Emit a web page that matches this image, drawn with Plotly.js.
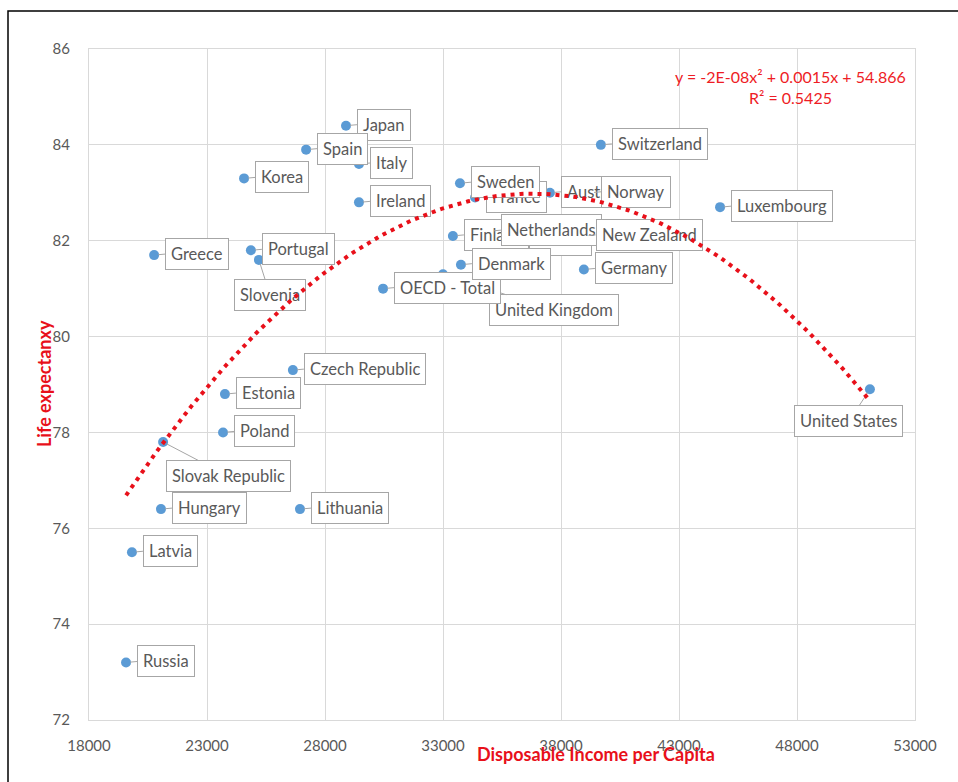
<!DOCTYPE html>
<html>
<head>
<meta charset="utf-8">
<script src="https://cdn.plot.ly/plotly-3.0.1.min.js"></script>
<style>
  html, body { margin: 0; padding: 0; background: #ffffff; }
  #wrap { position: relative; width: 958px; height: 782px; }
  #chart, #trend { position: absolute; left: 0; top: 0; width: 958px; height: 782px; }
  #trend { pointer-events: none; }
</style>
</head>
<body>
<div id="wrap">
  <div id="chart"></div>
  <div id="trend"></div>
</div>
<script>
// ---------------- data ----------------
const countries = [
  "Russia", "Latvia", "Hungary", "Slovak Republic", "Greece", "Poland", "Estonia",
  "Korea", "Portugal", "Slovenia", "Czech Republic", "Lithuania", "Spain", "Japan",
  "Italy", "Ireland", "OECD - Total", "United Kingdom", "Finland", "Sweden", "Denmark",
  "France", "Netherlands", "Austria", "Australia", "Germany", "New Zealand", "Norway",
  "Switzerland", "Luxembourg", "United States"
];
const disposableIncome = [
  19570, 19820, 21050, 21140, 20760, 23680, 23760,
  24570, 24860, 25200, 26640, 26940, 27200, 28890,
  29440, 29440, 30460, 33000, 33420, 33720, 33760,
  34360, 35000, 36180, 37530, 38970, 39000, 39230,
  39690, 44740, 51090
];
const lifeExpectancy = [
  73.2, 75.5, 76.4, 77.8, 81.7, 78.0, 78.8,
  83.3, 81.8, 81.6, 79.3, 76.4, 83.9, 84.4,
  83.6, 82.8, 81.0, 81.3, 82.1, 83.2, 81.5,
  82.9, 82.2, 82.0, 83.0, 81.4, 82.1, 83.0,
  84.0, 82.7, 78.9
];
const xTicks = [18000, 23000, 28000, 33000, 38000, 43000, 48000, 53000];
const yTicks = [72, 74, 76, 78, 80, 82, 84, 86];
const trendEquation = "y = -2E-08x² + 0.0015x + 54.866";
const trendR2 = "R² = 0.5425";

// ---------------- label placement (style, not data) ----------------
// default: box left edge 11px right of the point, vertically centred
const specialLabelOffsets = {
  "Slovenia": [11, 35],
  "Slovak Republic": [65, 34],
  "United Kingdom": [111, 36],
  "United States": [-21, 32]
};
const labelDrawOrder = [
  "Russia", "Latvia", "Hungary", "Lithuania", "Slovak Republic", "Poland", "Estonia",
  "Czech Republic", "Greece", "Slovenia", "Portugal", "Korea", "Japan", "Italy", "Spain",
  "Ireland", "United Kingdom", "OECD - Total", "France", "Sweden", "Finland", "Austria",
  "Netherlands", "New Zealand", "Denmark", "Germany", "Australia", "Norway",
  "Switzerland", "Luxembourg", "United States"
];

// ---------------- quadratic least-squares trendline ----------------
function quadFit(xs, ys) {
  const n = xs.length;
  let s0 = n, s1 = 0, s2 = 0, s3 = 0, s4 = 0, sy = 0, sxy = 0, sx2y = 0;
  for (let i = 0; i < n; i++) {
    const t = xs[i] / 1000, y = ys[i];
    s1 += t; s2 += t * t; s3 += t * t * t; s4 += t * t * t * t;
    sy += y; sxy += t * y; sx2y += t * t * y;
  }
  const A = [[s4, s3, s2, sx2y], [s3, s2, s1, sxy], [s2, s1, s0, sy]];
  for (let c = 0; c < 3; c++) {
    let p = c;
    for (let r = c + 1; r < 3; r++) if (Math.abs(A[r][c]) > Math.abs(A[p][c])) p = r;
    [A[c], A[p]] = [A[p], A[c]];
    for (let r = 0; r < 3; r++) {
      if (r === c) continue;
      const f = A[r][c] / A[c][c];
      for (let k = c; k < 4; k++) A[r][k] -= f * A[c][k];
    }
  }
  return [A[0][3] / A[0][0], A[1][3] / A[1][1], A[2][3] / A[2][2]]; // a, b, c in t=x/1000
}
const coef = quadFit(disposableIncome, lifeExpectancy);
const xMin = Math.min(...disposableIncome), xMax = Math.max(...disposableIncome);
const trendX = [], trendY = [];
for (let k = 0; k <= 200; k++) {
  const x = xMin + (xMax - xMin) * k / 200, t = x / 1000;
  trendX.push(x);
  trendY.push(coef[0] * t * t + coef[1] * t + coef[2]);
}

// ---------------- layout helpers ----------------
const W = 958, H = 782;
const margin = { l: 89, r: 43, t: 49, b: 62, pad: 0 };
const FONT = "Lato, 'Open Sans', sans-serif";
const GRID = "#d9d9d9";
const TXT = "#595959";
const RED = "#e8101a";

function axisX(visible) {
  return {
    range: [18000, 53000], tickmode: "array", tickvals: xTicks, ticktext: xTicks.map(String),
    showgrid: visible, gridcolor: GRID, gridwidth: 1, zeroline: false,
    showline: visible, linecolor: GRID, linewidth: 1, mirror: visible,
    showticklabels: visible, ticks: "", ticklabelstandoff: 12,
    tickfont: { family: FONT, size: 15, color: TXT }, fixedrange: true
  };
}
function axisY(visible) {
  return {
    range: [72, 86], tickmode: "array", tickvals: yTicks, ticktext: yTicks.map(String),
    showgrid: visible, gridcolor: GRID, gridwidth: 1, zeroline: false,
    showline: visible, linecolor: GRID, linewidth: 1, mirror: visible,
    showticklabels: visible, ticks: "", ticklabelstandoff: 15,
    tickfont: { family: FONT, size: 15, color: TXT }, fixedrange: true
  };
}

// ---------------- labels ----------------
const annotations = [];
labelDrawOrder.forEach(name => {
  const i = countries.indexOf(name);
  if (i < 0) return;
  const sp = specialLabelOffsets[name];
  annotations.push({
    x: disposableIncome[i], y: lifeExpectancy[i], xref: "x", yref: "y",
    text: name, showarrow: true, arrowhead: 0, arrowwidth: 1, arrowcolor: "#a6a6a6",
    standoff: 4, axref: "pixel", ayref: "pixel",
    ax: sp ? sp[0] : 11, ay: sp ? sp[1] : -1,
    xanchor: sp ? "center" : "left", yanchor: "middle",
    bgcolor: "#ffffff", bordercolor: "#a6a6a6", borderwidth: 1, borderpad: 5,
    font: { family: FONT, size: 16.5, color: TXT }
  });
});
// axis titles and equation
annotations.push({
  xref: "paper", yref: "paper", x: (596 - 89) / 826, y: (720 - 754) / 671,
  text: "<b>Disposable Income per Capita</b>", showarrow: false,
  xanchor: "center", yanchor: "middle", font: { family: FONT, size: 18, color: RED }
});
annotations.push({
  xref: "paper", yref: "paper", x: (44 - 89) / 826, y: (720 - 384) / 671,
  text: "<b>Life expectanxy</b>", showarrow: false, textangle: -90,
  xanchor: "center", yanchor: "middle", font: { family: FONT, size: 18, color: RED }
});
annotations.push({
  xref: "paper", yref: "paper", x: (790 - 89) / 826, y: (720 - 87) / 671,
  text: trendEquation + "<br>" + trendR2, showarrow: false, align: "center",
  xanchor: "center", yanchor: "middle", font: { family: FONT, size: 16, color: "#ee1c25" }
});

const layout = {
  width: W, height: H, margin: margin,
  paper_bgcolor: "#ffffff", plot_bgcolor: "#ffffff",
  showlegend: false,
  xaxis: axisX(true), yaxis: axisY(true),
  annotations: annotations,
  shapes: [{
    type: "rect", xref: "paper", yref: "paper", layer: "above",
    x0: (8 - 89) / 826, x1: (975 - 89) / 826, y0: (720 - 800) / 671, y1: (720 - 11) / 671,
    line: { color: "#000000", width: 1.5 }, fillcolor: "rgba(0,0,0,0)"
  }]
};

Plotly.newPlot("chart", [{
  type: "scatter", mode: "markers", x: disposableIncome, y: lifeExpectancy,
  text: countries, hoverinfo: "text",
  marker: { color: "#5b9bd5", size: 10, line: { width: 0 } }
}], layout, { staticPlot: true, displayModeBar: false });

Plotly.newPlot("trend", [{
  type: "scatter", mode: "lines", x: trendX, y: trendY, hoverinfo: "skip",
  line: { color: RED, width: 4, dash: "4px,5px" }
}], {
  width: W, height: H, margin: margin,
  paper_bgcolor: "rgba(0,0,0,0)", plot_bgcolor: "rgba(0,0,0,0)", showlegend: false,
  xaxis: axisX(false), yaxis: axisY(false)
}, { staticPlot: true, displayModeBar: false });
</script>
</body>
</html>
